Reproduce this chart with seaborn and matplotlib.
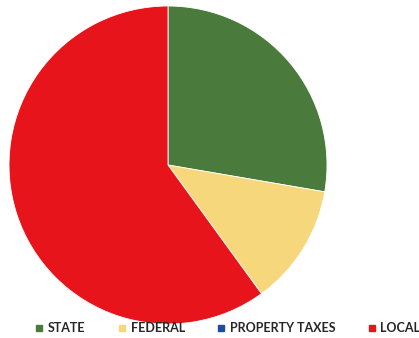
import matplotlib
matplotlib.use("Agg")
import matplotlib.pyplot as plt
import seaborn as sns
from matplotlib.lines import Line2D

sns.set_theme(style="white")
plt.rcParams["font.family"] = ["Lato", "DejaVu Sans"]

# Revenue sources (percent of total)
categories = ["STATE", "FEDERAL", "PROPERTY TAXES", "LOCAL"]
shares = [27.7, 12.3, 0.0, 60.0]
colors = ["#4b7b3c", "#f6d77c", "#1f4e99", "#e8141c"]

W, H = 419, 338
fig = plt.figure(figsize=(W / 100, H / 100), dpi=100)
fig.patch.set_facecolor("white")

cx, cy, r = 168, 165, 159
ax = fig.add_axes([(cx - r) / W, (H - cy - r) / H, 2 * r / W, 2 * r / H])

# zero-valued sources get no wedge, only a legend entry
drawn = [(s, c) for s, c in zip(shares, colors) if s > 0]
ax.pie([s for s, _ in drawn], colors=[c for _, c in drawn], startangle=90,
       counterclock=False, radius=1,
       wedgeprops=dict(linewidth=0.6, edgecolor="white"))
ax.set_xlim(-1, 1)
ax.set_ylim(-1, 1)
ax.set_aspect("equal")
ax.axis("off")

handles = [Line2D([0], [0], marker="s", linestyle="none", markersize=4.5,
                  markerfacecolor=c, markeredgecolor=c) for c in colors]
fig.legend(handles, categories, loc="center", ncol=4,
           bbox_to_anchor=(228 / W, 1 - 328 / H), frameon=False,
           prop=dict(size=9, weight="bold"), handlelength=0.6,
           handletextpad=0.4, columnspacing=2.6, borderpad=0)

fig.savefig("out.png", dpi=100, facecolor="white")
